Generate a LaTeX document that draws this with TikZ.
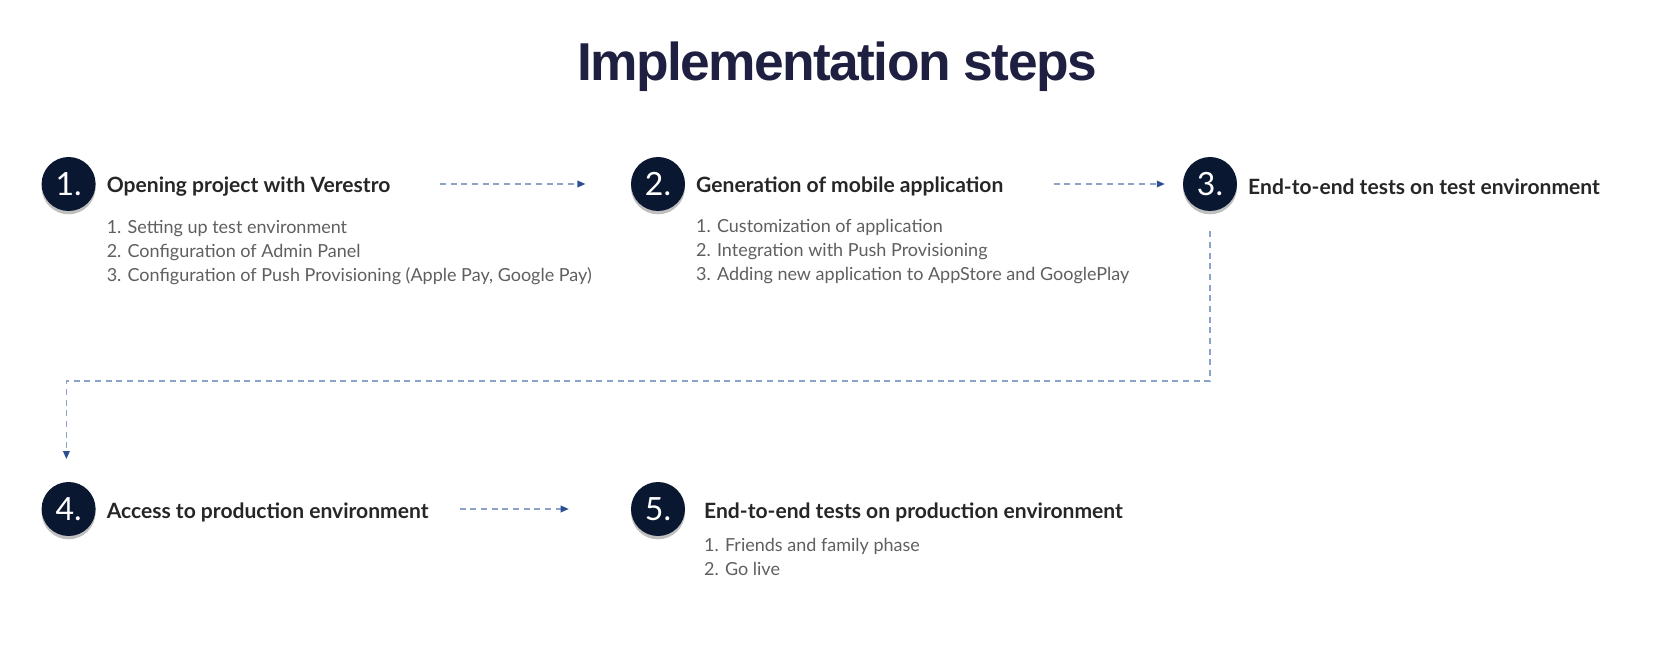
\documentclass[tikz,border=0pt]{standalone}
\usepackage{fontspec}
\usepackage{xcolor}
\setmainfont{Lato}
\newfontfamily\titlefont{Liberation Sans}[LetterSpace=-3]
\usetikzlibrary{
    positioning,
    arrows.meta,
    shadows
}
\definecolor{AzulNoite}{HTML}{0A1731}
\definecolor{TituloEscuro}{HTML}{1F2041}
\definecolor{TextoEscuro}{HTML}{262626}
\definecolor{TextoCinza}{HTML}{5F5F5F}
\definecolor{LinhaAzul}{HTML}{8CA3CC}
\definecolor{PontaAzul}{HTML}{2B4F93}
\tikzset{
    stepcircle/.style={
        circle,
        fill=AzulNoite,
        minimum size=40.5pt,
        inner sep=0pt,
        text=white,
        font=\fontsize{24}{24}\selectfont,
        drop shadow={shadow xshift=0pt, shadow yshift=-2.5pt, opacity=0.25, fill=black}
    },
    stephead/.style={
        inner sep=0pt,
        text=TextoEscuro,
        font=\bfseries\fontsize{15.8}{19}\selectfont
    },
    stepitems/.style={
        inner sep=0pt,
        align=left,
        text=TextoCinza,
        font=\fontsize{13.5}{18}\selectfont
    },
    flowarrow/.style={
        draw=LinhaAzul,
        line width=1pt,
        dash pattern=on 4.5pt off 3.5pt,
        -{Triangle[length=6pt, width=5pt, color=PontaAzul]}
    }
}

\begin{document}
\begin{tikzpicture}[x=0.75pt, y=-0.75pt]
    \useasboundingbox (0,0) rectangle (1680,652);
    \node[
        text=TituloEscuro,
        font=\titlefont\bfseries\fontsize{40}{40}\selectfont
    ] (titulo) at (837,67) {Implementation steps};

    \node[stepcircle] (c1) at (68.6,184) {1.};
    \node[stepcircle] (c2) at (658,184) {2.};
    \node[stepcircle] (c3) at (1210,184) {3.};
    \node[stepcircle] (c4) at (68.6,509) {4.};
    \node[stepcircle] (c5) at (658,509) {5.};

    \node[stephead, right=8pt of c1, yshift=-2.2pt] (h1) {Opening project with Verestro};
    \node[stephead, right=8pt of c2, yshift=-2.2pt] (h2) {Generation of mobile application};
    \node[stephead, right=8pt of c3, yshift=-2.2pt] (h3) {End-to-end tests on test environment};
    \node[stephead, right=8pt of c4, yshift=-2.2pt] (h4) {Access to production environment};
    \node[stephead, right=14pt of c5, yshift=-2.2pt] (h5) {End-to-end tests on production environment};

    \node[stepitems, below right=17pt and 0pt of h1.south west] (l1) {
        1. Setting up test environment\\
        2. Configuration of Admin Panel\\
        3. Configuration of Push Provisioning (Apple Pay, Google Pay)
    };
    \node[stepitems, below right=17pt and 0pt of h2.south west] (l2) {
        1. Customization of application\\
        2. Integration with Push Provisioning\\
        3. Adding new application to AppStore and GooglePlay
    };
    \node[stepitems, below right=12pt and 0pt of h5.south west] (l5) {
        1. Friends and family phase\\
        2. Go live
    };

    \coordinate (turn) at (66.4,381);
    \draw[flowarrow, shorten <=37pt, shorten >=34pt] (h1.east |- c1) -- (c2.west);
    \draw[flowarrow, shorten <=37.5pt, shorten >=13.5pt] (h2.east |- c2) -- (c3.west);
    \draw[flowarrow, shorten <=15pt, shorten >=17pt] (c3.south) |- (turn) -- (turn |- c4.north);
    \draw[flowarrow, shorten <=23pt, shorten >=46.5pt] (h4.east |- c4) -- (c5.west);
\end{tikzpicture}
\end{document}
